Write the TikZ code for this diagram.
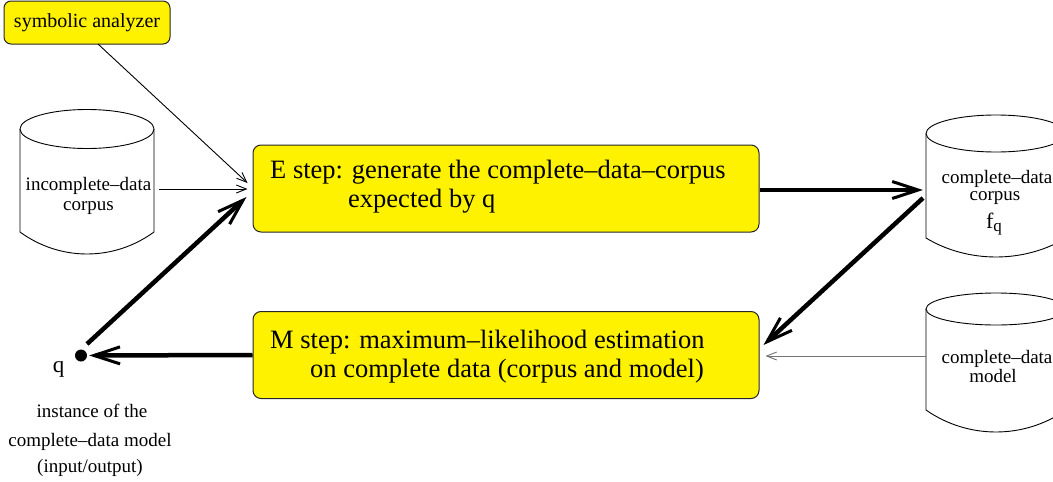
\documentclass[tikz,border=0pt]{standalone}
\usepackage{fontspec}
\setmainfont{Liberation Serif}
\usetikzlibrary{arrows.meta}
\tikzset{
  boxline/.style={draw=black!85, line width=1pt, fill=yellow},
  stepbox/.style={boxline, rounded corners=8pt, minimum width=506pt, minimum height=87pt, inner sep=0pt},
  sabox/.style={boxline, rounded corners=7pt, minimum width=166pt, minimum height=43pt, inner sep=0pt},
  bigtext/.style={font=\fontsize{26.5}{29}\selectfont, inner sep=0pt},
  smalltext/.style={font=\fontsize{19}{20}\selectfont, inner sep=0pt},
  cyl/.style={draw=black, line width=0.9pt},
  heavyarrow/.style={line width=4.5pt, -{Straight Barb[length=26pt, width=17pt, line width=3pt]}},
  lightarrow/.style={line width=0.9pt, -{Straight Barb[length=10pt, width=8pt, line width=0.9pt]}},
}
\newcommand\mycyl[6]{% xl xr yc ry yb bulge
  \draw[cyl] ({(#1+#2)/2},#3) ellipse [x radius={(#2-#1)/2}, y radius=#4];
  \draw[cyl] (#1,#3) -- (#1,#5) .. controls ({#1+(#2-#1)*0.3},{#5+#6*1.333}) and ({#2-(#2-#1)*0.3},{#5+#6*1.333}) .. (#2,#5) -- (#2,#3);
}
\begin{document}
\begin{tikzpicture}[x=1pt, y=-1pt]
\useasboundingbox (0,0) rectangle (1053,482);
\clip (0,0) rectangle (1053,482);
\fill[white] (0,0) rectangle (1053,482);

% cylinders
\mycyl{20}{154}{129}{19.5}{232}{22}
\mycyl{926}{1066}{133.5}{18.5}{238}{19}
\mycyl{926}{1066}{309}{16}{410}{22}

% boxes
\node[sabox] (sa) at (87,22.5) {};
\node[font=\fontsize{20}{22}\selectfont, inner sep=0pt, anchor=base] (satext) at (87,27) {symbolic analyzer};
\node[stepbox] (E) at (506,188.5) {};
\node[bigtext, anchor=base west] (E1) at (270,178) {E step: generate the complete--data--corpus};
\node[bigtext, anchor=base west] (E2) at (348,207) {expected by q};
\node[stepbox] (M) at (506,355) {};
\node[bigtext, anchor=base west] (M1) at (270,348) {M step: maximum--likelihood estimation};
\node[bigtext, anchor=base west] (M2) at (310,377) {on complete data (corpus and model)};

% cylinder texts
\node[smalltext, anchor=base] (inc1) at (88.5,190) {incomplete--data};
\node[smalltext, anchor=base] (inc2) at (88.5,210) {corpus};
\node[smalltext, anchor=base] (cor1) at (997,183) {complete--data};
\node[smalltext, anchor=base] (cor2) at (995,200.5) {corpus};
\node[font=\fontsize{22}{24}\selectfont, inner sep=0pt, anchor=base] (cor3) at (994,228) {f\raisebox{-3pt}{\fontsize{17}{18}\selectfont q}};
\node[smalltext, anchor=base] (mod1) at (997,363) {complete--data};
\node[smalltext, anchor=base] (mod2) at (993,382) {model};

% q dot and caption
\node[circle, fill=black, minimum size=12pt, inner sep=0pt] (dot) at (81,355.5) {};
\node[font=\fontsize{23}{26}\selectfont, inner sep=0pt, anchor=base] (qlab) at (58.5,372) {q};
\node[smalltext, anchor=base] (cap1) at (92,417) {instance of the};
\node[smalltext, anchor=base] (cap2) at (90,446) {complete--data model};
\node[smalltext, anchor=base] (cap3) at (90,472) {(input/output)};

% anchor points
\coordinate (saout) at (98,44);
\coordinate (incE) at (159,189);
\coordinate (corW) at (926,190);
\coordinate (corSW) at (923,198);
\coordinate (modW) at (926,356);
\coordinate (dotout) at (87,344);

% connectors
\draw[lightarrow] (saout) -- ([xshift=-5pt,yshift=5.5pt]E.west);
\draw[lightarrow] (incE) -- ([xshift=-5pt,yshift=-0.5pt]E.west);
\draw[heavyarrow] (dotout) -- ([xshift=-6pt,yshift=-8.5pt]E.west);
\draw[heavyarrow] ([yshift=-1.5pt]E.east) -- ([xshift=-3pt]corW);
\draw[heavyarrow] (corSW) -- ([xshift=4pt,yshift=10pt]M.east);
\draw[lightarrow, draw=black!55] (modW) -- ([xshift=6pt,yshift=-1pt]M.east);
\draw[heavyarrow, shorten >=2pt] (M.west) -- (dot);
\end{tikzpicture}
\end{document}
